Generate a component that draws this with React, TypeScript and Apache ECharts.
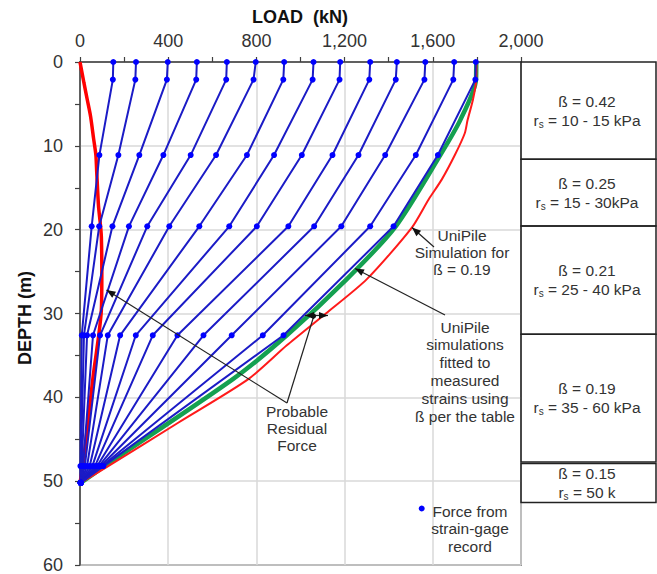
import React, { useEffect, useRef } from 'react';
import * as echarts from 'echarts';

const FONT = "'Liberation Sans', Arial, Helvetica, sans-serif";
const TEXT = '#333333';

// Strain-gage depths (m), from the pile head down to the toe
const gageDepths = [0, 2.1, 11.1, 19.6, 32.6, 48.2, 50.2];

// Force (kN) at each gage depth, one entry per load increment
const loadAt0 = [151, 254, 398, 530, 666, 797, 926, 1059, 1180, 1316, 1437, 1566, 1697, 1795];
const loadAt2 = [149, 251, 394, 527, 663, 787, 922, 1055, 1177, 1312, 1432, 1562, 1693, 1793];
const loadAt11 = [88, 174, 269, 378, 502, 617, 757, 880, 1006, 1145, 1263, 1384, 1523, 1623];
const loadAt20 = [53, 87, 147, 222, 305, 405, 541, 677, 802, 945, 1062, 1185, 1316, 1422];
const loadAt33 = [8, 18, 32, 59, 91, 126, 182, 253, 330, 442, 560, 688, 829, 923];
const loadAt48 = [2, 4, 8, 14, 22, 32, 44, 56, 68, 78, 86, 94, 100, 106];
const loadAtToe = [3, 3, 3, 3, 3, 3, 3, 3, 3, 3, 3, 3, 3, 3];

// Fitted curve (green) for the final load
const fitDepth = [0, 2.1, 6.9, 11.1, 19.6, 25.9, 32.6, 37.8, 48.2, 50.2];
const fitLoad = [1797, 1796, 1725, 1634, 1432, 1210, 938, 695, 112, 3];

// UniPile simulation for beta = 0.19 (red)
const simDepth = [0, 2.1, 4.5, 6.9, 8.5, 11.1, 14.0, 16.4, 19.75, 25.9, 30.0, 33.8, 37.8, 43.0, 48.2, 50.2];
const simLoad = [1798, 1797, 1782, 1758, 1745, 1700, 1641, 1581, 1505, 1301, 1115, 938, 765, 447, 128, 3];

// Probable residual force distribution
const resDepth = [0, 2.5, 4.5, 6.5, 9.2, 11.1, 13.2, 17.2, 19.5, 21.0, 25.0, 29.5, 32.6, 37.4, 42.5, 47.7, 50.2];
const resLoad = [0, 18, 33, 48, 62, 72, 76, 84, 93, 97, 99, 97, 85, 60, 38, 15, 0];

// Soil-layer table
const tableBeta = ['ß = 0.42', 'ß = 0.25', 'ß = 0.21', 'ß = 0.19', 'ß = 0.15'];
const tableRs = [' = 10 - 15 kPa', ' = 15 - 30kPa', ' = 25 - 40 kPa', ' = 35 - 60 kPa', ' = 50 k'];

const xTicks = { min: 0, max: 2000, interval: 400 };
const yTicks = { min: 0, max: 60, interval: 10 };

function zip(xs: number[], ys: number[]) {
  return xs.map((x, i) => [x, ys[i]]);
}

function arrow(x1: number, y1: number, x2: number, y2: number, head = true): any[] {
  const els: any[] = [
    { type: 'line', silent: true, z: 100, shape: { x1, y1, x2, y2 }, style: { stroke: '#222', lineWidth: 1.2 } },
  ];
  if (head) {
    const a = Math.atan2(y2 - y1, x2 - x1);
    const L = 9;
    const W = 3.6;
    const bx = x2 - L * Math.cos(a);
    const by = y2 - L * Math.sin(a);
    const px = -Math.sin(a) * W;
    const py = Math.cos(a) * W;
    els.push({
      type: 'polygon', silent: true, z: 101,
      shape: { points: [[x2, y2], [bx + px, by + py], [bx - px, by - py]] },
      style: { fill: '#111' },
    });
  }
  return els;
}

function textBlock(lines: string[], cx: number, y0: number, dy: number, size = 15.5): any[] {
  return lines.map((t, i) => ({
    type: 'text', silent: true, z: 100, x: cx, y: y0 + i * dy,
    style: {
      text: t, fill: TEXT, fontSize: size, fontFamily: FONT,
      textAlign: 'center', textVerticalAlign: 'middle',
    },
  }));
}

export default function App() {
  const ref = useRef<HTMLDivElement>(null);

  useEffect(() => {
    if (!ref.current) return;
    const chart = echarts.init(ref.current, undefined, { renderer: 'svg' });

    const byDepth = [loadAt0, loadAt2, loadAt11, loadAt20, loadAt33, loadAt48, loadAtToe];
    const levelSeries = loadAt0.map((_, i) => ({
      type: 'line',
      silent: true,
      z: 4,
      data: gageDepths.map((d, k) => [byDepth[k][i], d]),
      symbol: 'circle',
      symbolSize: 6,
      showSymbol: true,
      lineStyle: { color: '#1b1bc6', width: 2 },
      itemStyle: { color: '#0000ff' },
    }));

    // table cells on the right of the plot
    const rowBoxes = [
      [62, 159.3],
      [159.3, 226],
      [226, 334.3],
      [334.3, 462],
      [463.5, 502.5],
    ];
    const tableEls: any[] = [];
    rowBoxes.forEach(([t, b], i) => {
      tableEls.push({
        type: 'rect', silent: true, z: 90,
        shape: { x: 521, y: t, width: 135, height: b - t },
        style: { fill: 'none', stroke: '#222', lineWidth: 1.5 },
      });
      const mid = (t + b) / 2;
      tableEls.push({
        type: 'text', silent: true, z: 100, x: 587, y: mid - 9.5,
        style: {
          text: tableBeta[i], fill: TEXT, fontSize: 15.5, fontFamily: FONT,
          textAlign: 'center', textVerticalAlign: 'middle',
        },
      });
      tableEls.push({
        type: 'text', silent: true, z: 100, x: 587, y: mid + 9.5,
        style: {
          text: '{a|r}{s|s}{a|' + tableRs[i] + '}',
          textAlign: 'center', textVerticalAlign: 'middle',
          rich: {
            a: { fontSize: 15.5, fontFamily: FONT, fill: TEXT, lineHeight: 18 },
            s: { fontSize: 10, fontFamily: FONT, fill: TEXT, lineHeight: 18, verticalAlign: 'bottom', padding: [6, 0, 0, 0] },
          },
        },
      });
    });

    const graphic: any[] = [
      {
        type: 'text', silent: true, z: 100, x: 300, y: 16.5,
        style: {
          text: 'LOAD  (kN)', fill: '#111', fontSize: 18, fontWeight: 'bold', fontFamily: FONT,
          textAlign: 'center', textVerticalAlign: 'middle',
        },
      },
      {
        type: 'text', silent: true, z: 100, x: 25, y: 318, rotation: Math.PI / 2,
        style: {
          text: 'DEPTH (m)', fill: '#111', fontSize: 18, fontWeight: 'bold', fontFamily: FONT,
          textAlign: 'center', textVerticalAlign: 'middle',
        },
      },
      ...tableEls,
      ...textBlock(['UniPile', 'Simulation for', 'ß = 0.19'], 462, 235, 17),
      ...arrow(434, 247, 412, 227.5),
      ...textBlock(['UniPile', 'simulations', 'fitted to', 'measured', 'strains using', 'ß per the table'], 465, 327, 17.9),
      ...arrow(445, 315, 355, 268.5),
      ...textBlock(['Probable', 'Residual', 'Force'], 297, 411, 17),
      ...arrow(287, 403, 106.5, 290),
      ...arrow(287, 403, 313.5, 317, false),
      ...arrow(313.5, 315.5, 305, 315.5),
      ...arrow(313.5, 315.5, 328, 315.5),
      { type: 'circle', silent: true, z: 101, shape: { cx: 313.5, cy: 316, r: 2.6 }, style: { fill: '#111' } },
      { type: 'circle', silent: true, z: 100, shape: { cx: 421.7, cy: 508.5, r: 3 }, style: { fill: '#0000ff' } },
      ...textBlock(['Force from', 'strain-gage', 'record'], 470, 511, 17.5),
    ];

    const curve = (data: number[][], color: string, width: number, z: number) => ({
      type: 'line', silent: true, z, data,
      smooth: 0.25, showSymbol: false, symbol: 'none',
      lineStyle: { color, width },
    });

    chart.setOption({
      animation: false,
      backgroundColor: '#ffffff',
      grid: {
        left: 80, top: 62, width: 441, height: 505,
        show: true, borderColor: '#404040', borderWidth: 1.5, backgroundColor: 'transparent',
      },
      xAxis: {
        type: 'value',
        position: 'top',
        ...xTicks,
        axisLine: { show: true, lineStyle: { color: '#404040', width: 1.5 } },
        axisTick: { show: true, length: 5, lineStyle: { color: '#404040', width: 1.2 } },
        minorTick: { show: true, splitNumber: 2, length: 5, lineStyle: { color: '#404040', width: 1.2 } },
        splitLine: { show: true, lineStyle: { color: '#d9d9d9', width: 1.5 } },
        axisLabel: {
          color: TEXT, fontSize: 18, fontFamily: FONT, margin: 12,
          formatter: (v: number) => String(v).replace(/\B(?=(\d{3})+(?!\d))/g, ','),
        },
      },
      yAxis: {
        type: 'value',
        inverse: true,
        ...yTicks,
        axisLine: { show: true, lineStyle: { color: '#404040', width: 1.5 } },
        axisTick: { show: true, length: 5, lineStyle: { color: '#404040', width: 1.2 } },
        minorTick: { show: true, splitNumber: 2, length: 5, lineStyle: { color: '#404040', width: 1.2 } },
        splitLine: { show: true, lineStyle: { color: '#d9d9d9', width: 1.5 } },
        axisLabel: { color: TEXT, fontSize: 18, fontFamily: FONT, margin: 17 },
      },
      series: [
        curve(zip(resLoad, resDepth), '#ff0000', 3.5, 2),
        curve(zip(fitLoad, fitDepth), '#14a050', 4.5, 3),
        curve(zip(simLoad, simDepth), '#ff1a1a', 2, 3),
        ...levelSeries,
      ],
      graphic,
    });

    return () => chart.dispose();
  }, []);

  return (
    <div
      ref={ref}
      style={{ position: 'fixed', left: 0, top: 0, width: 657, height: 574, background: '#fff' }}
    />
  );
}
